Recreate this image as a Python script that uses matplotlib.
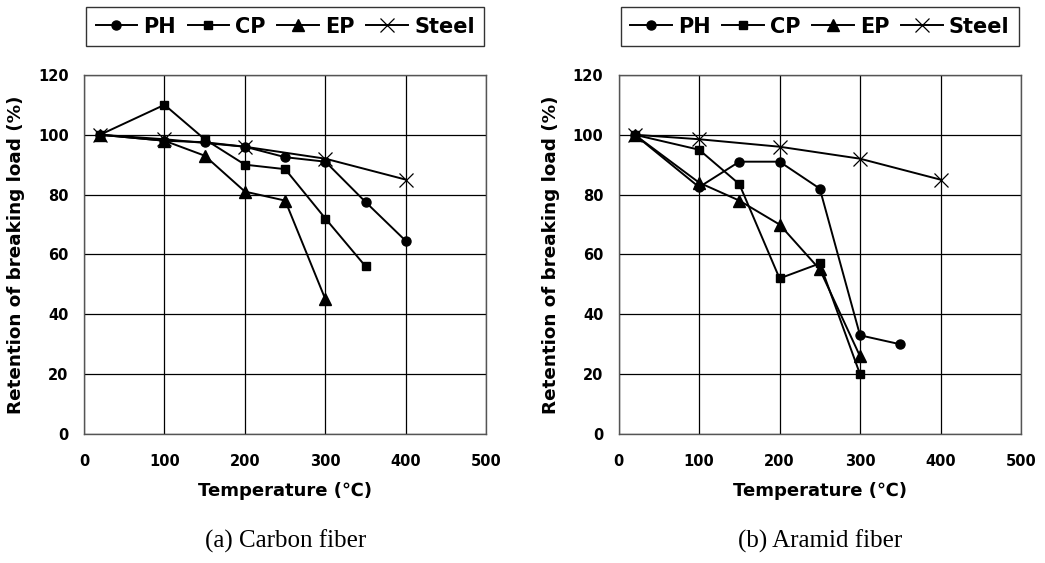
import matplotlib.pyplot as plt
from matplotlib.lines import Line2D

plt.rcParams['font.family'] = ['DejaVu Sans', 'Noto Sans CJK JP']
plt.rcParams['font.weight'] = 'bold'

# carbon fiber
c_ph_t = [20, 100, 150, 200, 250, 300, 350, 400]
c_ph = [100, 98, 97.5, 96, 92.5, 91, 77.5, 64.5]
c_cp_t = [20, 100, 150, 200, 250, 300, 350]
c_cp = [100, 110, 98.5, 90, 88.5, 72, 56]
c_ep_t = [20, 100, 150, 200, 250, 300]
c_ep = [100, 98, 93, 81, 78, 45]

# aramid fiber
a_ph_t = [20, 100, 150, 200, 250, 300, 350]
a_ph = [100, 82.5, 91, 91, 82, 33, 30]
a_cp_t = [20, 100, 150, 200, 250, 300]
a_cp = [100, 95, 83.5, 52, 57, 20]
a_ep_t = [20, 100, 150, 200, 250, 300]
a_ep = [100, 84, 78, 70, 55, 26]

# steel (same in both panels)
steel_t = [20, 100, 200, 300, 400]
steel = [100, 98.5, 96, 92, 85]

captions = ["(a) Carbon fiber", "(b) Aramid fiber"]

fig = plt.figure(figsize=(10.45, 5.63), dpi=100)
axes = [fig.add_axes([0.0804, 0.229, 0.385, 0.638]),
        fig.add_axes([0.592, 0.229, 0.385, 0.638])]

panels = [
    [(c_ph_t, c_ph), (c_cp_t, c_cp), (c_ep_t, c_ep), (steel_t, steel)],
    [(a_ph_t, a_ph), (a_cp_t, a_cp), (a_ep_t, a_ep), (steel_t, steel)],
]
styles = [dict(marker='o', ms=6.5), dict(marker='s', ms=6),
          dict(marker='^', ms=8), dict(marker='x', ms=10, mew=0.9)]
names = ["PH", "CP", "EP", "Steel"]

for ax, series, cap in zip(axes, panels, captions):
    for (t, v), st in zip(series, styles):
        ax.plot(t, v, color='black', lw=1.4, clip_on=False, **st)
    ax.set_xlim(0, 500)
    ax.set_ylim(0, 120)
    ax.set_xticks(range(0, 501, 100))
    ax.set_yticks(range(0, 121, 20))
    ax.grid(True, color='black', lw=0.9)
    ax.tick_params(length=0, labelsize=10.5)
    ax.tick_params(axis='x', pad=14)
    ax.tick_params(axis='y', pad=11)
    for s in ax.spines.values():
        s.set_color('#555555')
        s.set_linewidth(1.0)
    ax.set_xlabel("Temperature (℃)", fontsize=13, fontweight='bold', labelpad=10)
    ax.set_ylabel("Retention of breaking load (%)", fontsize=13.2, fontweight='bold', labelpad=9)
    ax.text(0.5, -0.298, cap, transform=ax.transAxes, ha='center', va='center',
            fontsize=18, fontweight='normal', family='Liberation Serif')

    handles = [Line2D([], [], color='black', lw=1.4, **st) for st in styles]
    leg = ax.legend(handles, names, loc='center', bbox_to_anchor=(0.5, 1.134),
                    ncol=4, fontsize=15, frameon=True, fancybox=False,
                    edgecolor='black', handlelength=2.0, handletextpad=0.3,
                    columnspacing=0.55, borderpad=0.45, borderaxespad=0)
    leg.get_frame().set_linewidth(1.0)

fig.savefig("out.png", dpi=100)
